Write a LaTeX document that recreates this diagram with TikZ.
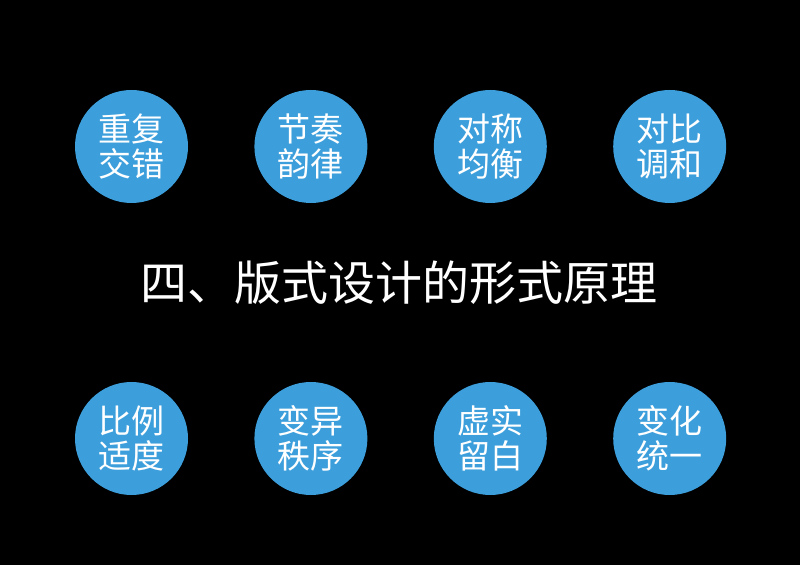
\documentclass[tikz,border=0pt]{standalone}
\usepackage{fontspec}
\usepackage{xcolor}
\usepackage{tikz}
\usetikzlibrary{positioning}
\newfontfamily\cjk{Noto Sans CJK SC}
\definecolor{page}{HTML}{000000}
\definecolor{skyblue}{HTML}{3C9FDC}

\begin{document}
\begin{tikzpicture}[node distance=66pt]
      \tikzset{principle/.style={circle,fill=skyblue,text=white,minimum size=113pt,inner sep=0pt,align=center,font=\cjk\fontsize{33}{35}\selectfont}, headline/.style={text=white,font=\cjk\fontsize{47}{50}\selectfont}}
      \fill[page] (0,0) rectangle (800pt,565pt);
      % top row
      \node[principle] (a) at (131.5pt,418.5pt) {重复\\交错};
      \node[principle,right=of a] (b) {节奏\\韵律};
      \node[principle,right=of b] (c) {对称\\均衡};
      \node[principle,right=of c] (d) {对比\\调和};
      \node[headline] (t) at (399pt,282pt) {四、版式设计的形式原理};
      % bottom row
      \node[principle] (e) at (131.5pt,126.5pt) {比例\\适度};
      \node[principle,right=of e] (f) {变异\\秩序};
      \node[principle,right=of f] (g) {虚实\\留白};
      \node[principle,right=of g] (h) {变化\\统一};
    \end{tikzpicture}
\end{document}
